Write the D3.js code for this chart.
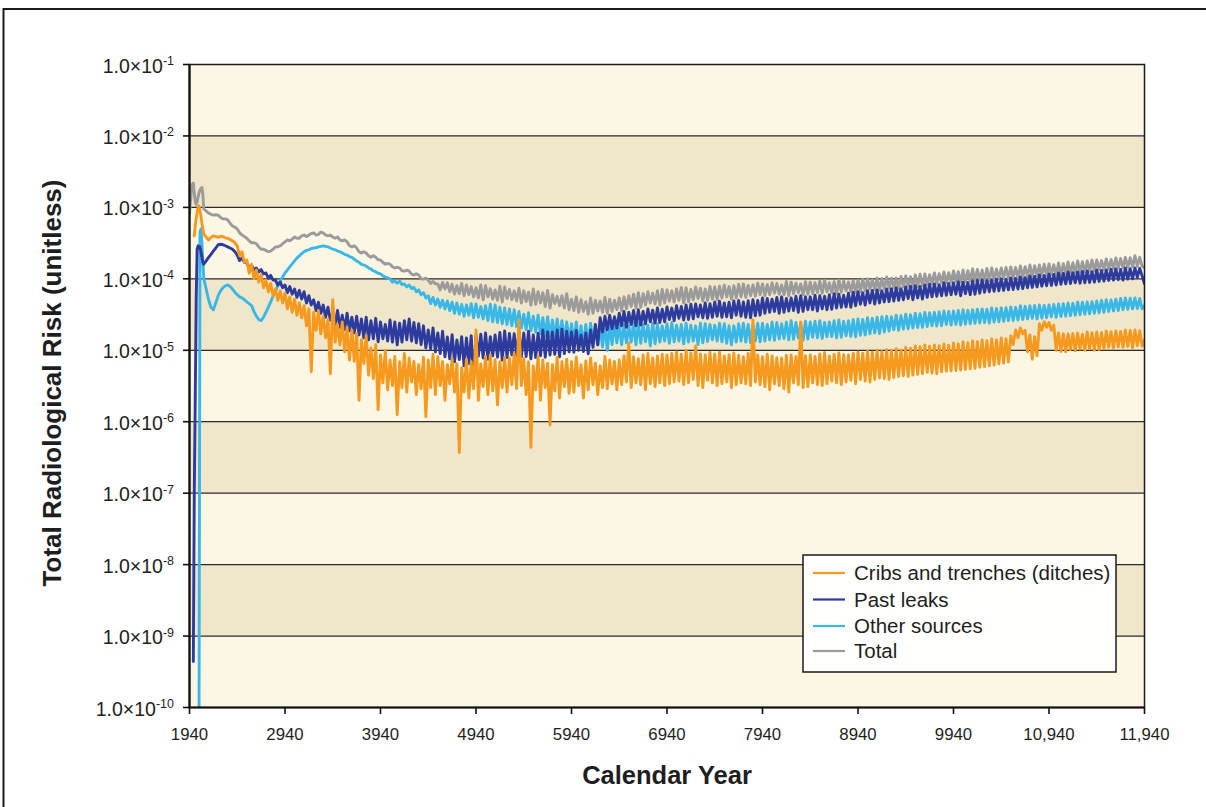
<!DOCTYPE html>
<html>
<head>
<meta charset="utf-8">
<script src="https://cdn.jsdelivr.net/npm/d3@7"></script>
<style>
  body { margin: 0; background: #ffffff; }
  svg { display: block; }
  text { font-family: "Liberation Sans", Arial, Helvetica, sans-serif; fill: #1e1e1e; }
</style>
</head>
<body>
<svg id="chart" width="1206" height="807"></svg>
<script>
// Sampling grid: 10-year steps through the first releases, 25-year steps afterwards
const years = [...d3.range(1940, 2100, 10), ...d3.range(2140, 11941, 25)];

// Total radiological risk (unitless) per source group
const cribsTrenches = [
  null, null, null, null, null, 4.0e-4, 5.5e-4, 7.0e-4, 8.5e-4, 1.0e-3, 1.05e-3, 9.0e-4, 7.5e-4, 6.0e-4, 5.0e-4, 4.2e-4,
  3.5e-4, 3.8e-4, 4.0e-4, 3.9e-4, 3.8e-4, 3.95e-4, 3.9e-4, 3.75e-4, 3.7e-4, 3.55e-4, 3.4e-4, 3.2e-4,
  2.9e-4, 2.1e-4, 2.4e-4, 1.7e-4, 1.84e-4, 1.2e-4, 1.6e-4, 1.0e-4, 1.33e-4, 9.0e-5, 1.15e-4, 7.5e-5, 9.6e-5, 6.6e-5, 8.6e-5, 5.8e-5, 7.2e-5, 5.0e-5, 6.8e-5, 4.6e-5,
  6.3e-5, 3.8e-5, 5.6e-5, 3.4e-5, 5.2e-5, 3.1e-5, 4.6e-5, 2.85e-5, 4.2e-5, 2.2e-5, 3.8e-5, 5.0e-6, 3.4e-5, 1.9e-5, 3.6e-5, 1.7e-5, 3.0e-5, 1.5e-5, 2.7e-5, 4.7e-6,
  5.1e-5, 1.3e-5, 2.3e-5, 1.19e-5, 2.5e-5, 9.5e-6, 2.1e-5, 7.3e-6, 1.93e-5, 7.0e-6, 1.7e-5, 2.0e-6, 1.4e-5, 6.5e-6, 1.6e-5, 4.5e-6, 1.08e-5, 4.0e-6, 1.2e-5, 1.47e-6,
  8.6e-6, 3.5e-6, 1.0e-5, 2.8e-6, 7.3e-6, 3.2e-6, 8.2e-6, 1.25e-6, 6.9e-6, 3.0e-6, 9.0e-6, 2.6e-6, 7.8e-6, 3.6e-6, 7.0e-6, 2.4e-6, 6.3e-6, 2.9e-6, 8.0e-6, 1.18e-6,
  7.3e-6, 3.0e-6, 8.8e-6, 2.4e-6, 8.1e-6, 3.2e-6, 7.0e-6, 2.0e-6, 6.3e-6, 3.4e-6, 7.6e-6, 2.6e-6, 6.5e-6, 3.7e-7, 5.7e-6, 2.6e-6, 7.5e-6, 2.15e-6, 6.9e-6, 2.9e-6,
  1.93e-5, 2.0e-6, 6.45e-6, 3.1e-6, 8.2e-6, 2.4e-6, 8.6e-6, 2.7e-6, 7.4e-6, 1.72e-6, 6.9e-6, 3.0e-6, 8.0e-6, 2.6e-6, 7.8e-6, 3.3e-6, 9.0e-6, 2.9e-6, 2.65e-5, 3.2e-6,
  7.7e-6, 2.4e-6, 6.9e-6, 4.4e-7, 6.05e-6, 2.8e-6, 8.3e-6, 2.0e-6, 7.3e-6, 3.0e-6, 6.6e-6, 9.0e-7, 6.3e-6, 2.7e-6, 8.0e-6, 2.15e-6, 6.9e-6, 3.1e-6, 7.5e-6, 2.5e-6,
  6.9e-6, 2.6e-6, 8.0e-6, 3.2e-6, 6.3e-6, 2.15e-6, 7.1e-6, 2.8e-6, 7.8e-6, 3.3e-6, 6.6e-6, 2.4e-6, 6.05e-6, 3.0e-6, 8.2e-6, 2.9e-6, 7.3e-6, 3.4e-6, 7.0e-6, 2.8e-6,
  7.3e-6, 3.3e-6, 8.4e-6, 3.6e-6, 1.27e-5, 3.0e-6, 8.1e-6, 3.5e-6, 7.6e-6, 3.3e-6, 8.6e-6, 2.8e-6, 9.0e-6, 3.4e-6, 7.8e-6, 3.1e-6, 8.3e-6, 3.5e-6, 8.8e-6, 3.2e-6,
  8.6e-6, 3.4e-6, 9.0e-6, 3.6e-6, 9.5e-6, 3.7e-6, 8.8e-6, 3.3e-6, 1.0e-5, 3.5e-6, 9.2e-6, 3.9e-6, 1.15e-5, 3.2e-6, 8.9e-6, 3.0e-6, 8.6e-6, 3.8e-6, 9.3e-6, 3.5e-6,
  8.9e-6, 3.2e-6, 9.4e-6, 3.4e-6, 8.35e-6, 3.6e-6, 8.7e-6, 3.0e-6, 9.2e-6, 3.3e-6, 8.5e-6, 3.5e-6, 8.1e-6, 3.4e-6, 9.0e-6, 3.2e-6, 2.65e-5, 3.6e-6, 8.6e-6, 3.3e-6,
  8.1e-6, 3.1e-6, 8.8e-6, 2.8e-6, 8.35e-6, 3.4e-6, 7.9e-6, 3.2e-6, 7.8e-6, 2.9e-6, 8.5e-6, 2.6e-6, 8.6e-6, 3.5e-6, 8.2e-6, 3.3e-6, 2.5e-5, 3.0e-6, 8.4e-6, 3.1e-6,
  8.6e-6, 3.5e-6, 8.2e-6, 3.3e-6, 8.9e-6, 3.2e-6, 9.3e-6, 3.4e-6, 8.35e-6, 3.7e-6, 8.8e-6, 3.5e-6, 9.2e-6, 3.3e-6, 8.7e-6, 3.6e-6, 8.6e-6, 3.8e-6, 9.1e-6, 3.4e-6,
  9.5e-6, 3.9e-6, 9.1e-6, 3.7e-6, 9.8e-6, 3.6e-6, 9.4e-6, 3.9e-6, 1.0e-5, 4.1e-6, 9.6e-6, 4.0e-6, 1.02e-5, 3.9e-6, 1.0e-5, 4.15e-6, 1.05e-5, 4.3e-6, 1.01e-5, 4.4e-6,
  1.1e-5, 4.3e-6, 1.07e-5, 4.5e-6, 1.15e-5, 4.6e-6, 1.12e-5, 4.7e-6, 1.19e-5, 4.9e-6, 1.14e-5, 4.8e-6, 1.19e-5, 4.7e-6, 1.16e-5, 5.0e-6, 1.23e-5, 5.1e-6, 1.18e-5, 5.15e-6,
  1.27e-5, 5.2e-6, 1.24e-5, 5.3e-6, 1.31e-5, 5.4e-6, 1.28e-5, 5.5e-6, 1.35e-5, 5.6e-6, 1.32e-5, 5.8e-6, 1.4e-5, 5.9e-6, 1.36e-5, 6.05e-6, 1.44e-5, 6.2e-6, 1.4e-5, 6.45e-6,
  1.49e-5, 6.6e-6, 1.45e-5, 6.9e-6, 1.59e-5, 1.2e-5, 1.93e-5, 1.5e-5, 2.05e-5, 1.7e-5, 1.9e-5, 9.5e-6, 1.64e-5, 7.5e-6, 1.55e-5, 8.35e-6, 2.35e-5, 1.9e-5, 2.5e-5, 2.1e-5,
  2.45e-5, 1.9e-5, 2.25e-5, 1.0e-5, 1.75e-5, 9.6e-6, 1.7e-5, 9.5e-6, 1.7e-5, 1.02e-5, 1.72e-5, 9.8e-6, 1.75e-5, 1.04e-5, 1.68e-5, 1.0e-5, 1.8e-5, 1.05e-5, 1.76e-5, 1.0e-5,
  1.8e-5, 1.02e-5, 1.78e-5, 1.05e-5, 1.87e-5, 1.1e-5, 1.82e-5, 1.08e-5, 1.87e-5, 1.12e-5, 1.84e-5, 1.1e-5, 1.93e-5, 1.13e-5, 1.9e-5, 1.08e-5, 1.93e-5, 1.16e-5, 1.88e-5, 1.15e-5,
  1.4e-5
];

const pastLeaks = [
  null, null, null, null, 4.4e-10, 1.0e-7, 2.0e-6, 5.1e-5, 2.6e-4, 2.9e-4, 2.7e-4, 2.8e-4, 2.4e-4, 2.0e-4, 1.7e-4, 1.6e-4,
  2.0e-4, 2.2e-4, 2.45e-4, 2.7e-4, 3.0e-4, 3.05e-4, 3.0e-4, 2.9e-4, 2.8e-4, 2.7e-4, 2.6e-4, 2.4e-4,
  2.15e-4, 1.8e-4, 1.95e-4, 1.7e-4, 1.66e-4, 1.45e-4, 1.55e-4, 1.33e-4, 1.42e-4, 1.25e-4, 1.35e-4, 1.17e-4, 1.21e-4, 1.02e-4, 1.12e-4, 9.6e-5, 9.6e-5, 8.2e-5, 9.0e-5, 7.5e-5,
  8.2e-5, 6.4e-5, 7.8e-5, 6.1e-5, 7.2e-5, 5.5e-5, 6.9e-5, 5.2e-5, 6.6e-5, 4.6e-5, 5.8e-5, 4.3e-5, 5.1e-5, 3.6e-5, 4.7e-5, 3.3e-5, 4.3e-5, 2.9e-5, 4.0e-5, 2.65e-5,
  3.4e-5, 2.3e-5, 3.6e-5, 2.1e-5, 3.1e-5, 1.95e-5, 3.3e-5, 1.87e-5, 2.9e-5, 1.75e-5, 3.0e-5, 1.64e-5, 2.75e-5, 1.5e-5, 2.9e-5, 1.4e-5, 2.6e-5, 1.45e-5, 2.8e-5, 1.31e-5,
  2.5e-5, 1.45e-5, 2.3e-5, 1.35e-5, 2.65e-5, 1.3e-5, 2.5e-5, 1.19e-5, 2.4e-5, 1.3e-5, 2.6e-5, 1.4e-5, 2.75e-5, 1.35e-5, 2.45e-5, 1.27e-5, 2.35e-5, 1.2e-5, 2.2e-5, 1.08e-5,
  1.93e-5, 1.05e-5, 2.05e-5, 9.5e-6, 1.75e-5, 9.0e-6, 1.85e-5, 8.1e-6, 1.54e-5, 7.6e-6, 1.65e-5, 6.9e-6, 1.4e-5, 7.4e-6, 1.55e-5, 6.05e-6, 1.49e-5, 6.5e-6, 1.6e-5, 3.85e-6,
  1.59e-5, 8.3e-6, 1.68e-5, 7.8e-6, 1.75e-5, 7.5e-6, 1.55e-5, 8.35e-6, 1.64e-5, 8.0e-6, 1.78e-5, 7.3e-6, 1.87e-5, 7.9e-6, 1.72e-5, 8.6e-6, 1.7e-5, 8.4e-6, 1.82e-5, 8.1e-6,
  1.75e-5, 8.2e-6, 1.85e-5, 7.6e-6, 1.64e-5, 7.9e-6, 1.74e-5, 8.35e-6, 1.93e-5, 8.0e-6, 1.82e-5, 8.6e-6, 1.8e-5, 8.8e-6, 1.92e-5, 8.1e-6, 1.98e-5, 9.0e-6, 1.85e-5, 9.5e-6,
  1.8e-5, 9.4e-6, 1.9e-5, 1.0e-5, 1.64e-5, 9.6e-6, 1.75e-5, 8.9e-6, 1.93e-5, 1.1e-5, 2.3e-5, 1.19e-5, 2.85e-5, 1.8e-5, 3.0e-5, 1.93e-5, 3.1e-5, 2.0e-5, 2.95e-5, 2.05e-5,
  3.3e-5, 2.2e-5, 3.5e-5, 2.1e-5, 3.4e-5, 2.3e-5, 3.6e-5, 2.2e-5, 3.7e-5, 2.25e-5, 3.5e-5, 2.35e-5, 3.8e-5, 2.5e-5, 3.65e-5, 2.4e-5, 3.9e-5, 2.45e-5, 3.75e-5, 2.5e-5,
  4.05e-5, 2.7e-5, 3.9e-5, 2.6e-5, 4.2e-5, 2.8e-5, 4.1e-5, 2.65e-5, 4.3e-5, 2.7e-5, 4.4e-5, 2.75e-5, 4.45e-5, 2.95e-5, 4.3e-5, 2.85e-5, 4.6e-5, 2.8e-5, 4.5e-5, 2.9e-5,
  4.75e-5, 3.0e-5, 4.85e-5, 2.9e-5, 4.6e-5, 2.95e-5, 4.7e-5, 2.85e-5, 4.9e-5, 3.1e-5, 5.0e-5, 3.0e-5, 4.75e-5, 2.9e-5, 4.95e-5, 2.85e-5, 5.1e-5, 3.05e-5, 5.0e-5, 3.1e-5,
  5.4e-5, 3.3e-5, 5.3e-5, 3.4e-5, 5.2e-5, 3.5e-5, 5.5e-5, 3.3e-5, 5.6e-5, 3.4e-5, 5.3e-5, 3.55e-5, 5.4e-5, 3.6e-5, 5.7e-5, 3.4e-5, 5.8e-5, 3.5e-5, 5.6e-5, 3.7e-5,
  5.6e-5, 3.7e-5, 5.9e-5, 3.55e-5, 5.8e-5, 3.8e-5, 5.7e-5, 3.7e-5, 6.0e-5, 3.75e-5, 6.2e-5, 3.9e-5, 6.1e-5, 4.0e-5, 5.9e-5, 4.05e-5, 6.3e-5, 4.0e-5, 6.5e-5, 4.2e-5,
  6.6e-5, 4.4e-5, 6.4e-5, 4.3e-5, 6.8e-5, 4.6e-5, 6.9e-5, 4.45e-5, 7.0e-5, 4.6e-5, 6.8e-5, 4.75e-5, 7.2e-5, 4.8e-5, 7.3e-5, 4.9e-5, 7.5e-5, 5.0e-5, 7.3e-5, 5.1e-5,
  7.7e-5, 5.3e-5, 7.9e-5, 5.1e-5, 8.0e-5, 5.4e-5, 7.8e-5, 5.2e-5, 8.2e-5, 5.5e-5, 8.4e-5, 5.6e-5, 8.5e-5, 5.7e-5, 8.3e-5, 5.8e-5, 8.8e-5, 5.9e-5, 8.6e-5, 6.0e-5,
  8.8e-5, 6.1e-5, 9.1e-5, 5.8e-5, 9.0e-5, 6.2e-5, 8.9e-5, 6.0e-5, 9.3e-5, 6.1e-5, 9.5e-5, 6.3e-5, 9.6e-5, 6.5e-5, 9.4e-5, 6.6e-5, 9.6e-5, 6.7e-5, 9.9e-5, 6.8e-5,
  1.0e-4, 6.9e-5, 9.8e-5, 7.0e-5, 1.03e-4, 7.1e-5, 1.01e-4, 7.2e-5, 1.06e-4, 7.3e-5, 1.04e-4, 7.5e-5, 1.1e-4, 7.6e-5, 1.08e-4, 7.7e-5, 1.13e-4, 7.9e-5, 1.11e-4, 8.0e-5,
  1.17e-4, 8.1e-5, 1.15e-4, 8.2e-5, 1.21e-4, 8.4e-5, 1.19e-4, 8.5e-5, 1.25e-4, 8.6e-5, 1.22e-4, 8.8e-5, 1.25e-4, 8.7e-5, 1.27e-4, 8.8e-5, 1.29e-4, 8.9e-5, 1.26e-4, 9.0e-5,
  1.33e-4, 9.2e-5, 1.31e-4, 9.3e-5, 1.33e-4, 9.5e-5, 1.36e-4, 9.6e-5, 1.38e-4, 9.7e-5, 1.35e-4, 9.6e-5, 1.42e-4, 9.9e-5, 1.39e-4, 1.0e-4, 1.42e-4, 1.05e-4, 1.4e-4, 1.1e-4,
  8.5e-5
];

const otherSources = [
  null, null, null, null, null, null, null, null, null, null, 1.0e-10, 4.5e-4, 5.0e-4, 3.2e-4, 1.7e-4, 1.0e-4,
  5.1e-5, 4.0e-5, 3.7e-5, 4.6e-5, 5.8e-5, 6.8e-5, 7.5e-5, 8.0e-5, 8.2e-5, 7.8e-5, 7.2e-5, 6.5e-5,
  6.0e-5, 5.6e-5, 5.4e-5, 5.1e-5, 4.75e-5, 4.5e-5, 4.2e-5, 3.5e-5, 3.0e-5, 2.7e-5, 2.6e-5, 2.9e-5, 3.4e-5, 4.0e-5, 4.75e-5, 5.7e-5, 6.8e-5, 8.0e-5, 9.3e-5, 1.06e-4,
  1.21e-4, 1.33e-4, 1.47e-4, 1.62e-4, 1.78e-4, 1.95e-4, 2.1e-4, 2.25e-4, 2.4e-4, 2.5e-4, 2.55e-4, 2.65e-4, 2.7e-4, 2.72e-4, 2.8e-4, 2.85e-4, 2.9e-4, 2.85e-4, 2.8e-4, 2.7e-4,
  2.6e-4, 2.55e-4, 2.45e-4, 2.4e-4, 2.3e-4, 2.2e-4, 2.15e-4, 2.05e-4, 2.0e-4, 1.88e-4, 1.78e-4, 1.7e-4, 1.6e-4, 1.56e-4, 1.51e-4, 1.42e-4, 1.37e-4, 1.3e-4, 1.25e-4, 1.2e-4,
  1.17e-4, 1.1e-4, 1.06e-4, 1.03e-4, 1.0e-4, 9.0e-5, 9.3e-5, 8.7e-5, 9.3e-5, 8.3e-5, 8.5e-5, 7.7e-5, 8.2e-5, 7.3e-5, 7.6e-5, 6.6e-5, 7.0e-5, 6.0e-5, 6.4e-5, 5.4e-5,
  5.8e-5, 4.5e-5, 5.5e-5, 4.3e-5, 5.2e-5, 4.0e-5, 5.0e-5, 3.8e-5, 4.9e-5, 3.6e-5, 4.7e-5, 3.3e-5, 4.6e-5, 3.2e-5, 4.4e-5, 3.0e-5, 4.3e-5, 3.1e-5, 4.5e-5, 2.85e-5,
  4.45e-5, 2.9e-5, 4.1e-5, 2.75e-5, 4.2e-5, 2.6e-5, 4.4e-5, 2.5e-5, 4.3e-5, 2.45e-5, 4.0e-5, 2.35e-5, 3.9e-5, 2.3e-5, 3.8e-5, 2.2e-5, 3.7e-5, 2.15e-5, 3.5e-5, 2.05e-5,
  3.2e-5, 1.95e-5, 3.35e-5, 1.87e-5, 3.0e-5, 1.8e-5, 3.1e-5, 1.7e-5, 2.85e-5, 1.6e-5, 2.95e-5, 1.54e-5, 2.65e-5, 1.5e-5, 2.75e-5, 1.44e-5, 2.6e-5, 1.35e-5, 2.5e-5, 1.4e-5,
  2.35e-5, 1.3e-5, 2.5e-5, 1.23e-5, 2.2e-5, 1.15e-5, 2.3e-5, 1.08e-5, 2.4e-5, 1.25e-5, 2.2e-5, 1.19e-5, 2.1e-5, 1.12e-5, 2.3e-5, 1.0e-5, 2.25e-5, 1.2e-5, 2.4e-5, 1.27e-5,
  2.35e-5, 1.2e-5, 2.25e-5, 1.27e-5, 2.2e-5, 1.3e-5, 2.45e-5, 1.19e-5, 2.4e-5, 1.25e-5, 2.3e-5, 1.31e-5, 2.25e-5, 1.15e-5, 2.4e-5, 1.23e-5, 2.35e-5, 1.3e-5, 2.2e-5, 1.35e-5,
  2.35e-5, 1.25e-5, 2.45e-5, 1.31e-5, 2.25e-5, 1.35e-5, 2.3e-5, 1.23e-5, 2.4e-5, 1.3e-5, 2.25e-5, 1.35e-5, 2.2e-5, 1.2e-5, 2.4e-5, 1.27e-5, 2.35e-5, 1.32e-5, 2.3e-5, 1.4e-5,
  2.25e-5, 1.35e-5, 2.4e-5, 1.31e-5, 2.35e-5, 1.25e-5, 2.2e-5, 1.19e-5, 2.2e-5, 1.3e-5, 2.35e-5, 1.35e-5, 2.4e-5, 1.3e-5, 2.3e-5, 1.27e-5, 2.25e-5, 1.36e-5, 2.4e-5, 1.31e-5,
  2.4e-5, 1.35e-5, 2.3e-5, 1.4e-5, 2.5e-5, 1.38e-5, 2.45e-5, 1.44e-5, 2.35e-5, 1.46e-5, 2.5e-5, 1.4e-5, 2.6e-5, 1.42e-5, 2.45e-5, 1.49e-5, 2.4e-5, 1.38e-5, 2.55e-5, 1.44e-5,
  2.5e-5, 1.52e-5, 2.55e-5, 1.49e-5, 2.6e-5, 1.46e-5, 2.45e-5, 1.54e-5, 2.5e-5, 1.56e-5, 2.6e-5, 1.49e-5, 2.65e-5, 1.52e-5, 2.55e-5, 1.59e-5, 2.6e-5, 1.57e-5, 2.7e-5, 1.54e-5,
  2.75e-5, 1.62e-5, 2.7e-5, 1.64e-5, 2.85e-5, 1.7e-5, 2.8e-5, 1.75e-5, 2.9e-5, 1.72e-5, 2.95e-5, 1.8e-5, 3.0e-5, 1.86e-5, 2.95e-5, 1.93e-5, 3.1e-5, 1.9e-5, 3.05e-5, 1.98e-5,
  3.2e-5, 2.0e-5, 3.15e-5, 2.05e-5, 3.3e-5, 2.08e-5, 3.25e-5, 2.1e-5, 3.4e-5, 2.15e-5, 3.35e-5, 2.2e-5, 3.4e-5, 2.18e-5, 3.45e-5, 2.2e-5, 3.55e-5, 2.3e-5, 3.5e-5, 2.25e-5,
  3.55e-5, 2.3e-5, 3.6e-5, 2.25e-5, 3.7e-5, 2.32e-5, 3.65e-5, 2.35e-5, 3.7e-5, 2.38e-5, 3.75e-5, 2.4e-5, 3.8e-5, 2.45e-5, 3.75e-5, 2.4e-5, 3.9e-5, 2.48e-5, 3.85e-5, 2.5e-5,
  3.9e-5, 2.55e-5, 3.95e-5, 2.6e-5, 4.05e-5, 2.62e-5, 4.0e-5, 2.65e-5, 4.2e-5, 2.7e-5, 4.15e-5, 2.75e-5, 4.2e-5, 2.8e-5, 4.25e-5, 2.75e-5, 4.3e-5, 2.82e-5, 4.25e-5, 2.85e-5,
  4.3e-5, 2.95e-5, 4.4e-5, 2.9e-5, 4.45e-5, 2.98e-5, 4.5e-5, 3.0e-5, 4.6e-5, 3.05e-5, 4.55e-5, 3.1e-5, 4.75e-5, 3.15e-5, 4.7e-5, 3.2e-5, 4.75e-5, 3.25e-5, 4.8e-5, 3.3e-5,
  4.9e-5, 3.35e-5, 5.0e-5, 3.4e-5, 5.1e-5, 3.5e-5, 5.05e-5, 3.55e-5, 5.2e-5, 3.6e-5, 5.3e-5, 3.7e-5, 5.4e-5, 3.75e-5, 5.35e-5, 3.8e-5, 5.4e-5, 3.85e-5, 5.3e-5, 3.8e-5,
  4.2e-5
];

const totalRisk = [
  8.1e-4, 1.2e-3, 1.7e-3, 2.1e-3, 2.2e-3, 1.6e-3, 1.2e-3, 1.1e-3, 1.2e-3, 1.4e-3, 1.6e-3, 1.75e-3, 1.85e-3, 1.9e-3, 1.5e-3, 9.5e-4,
  8.3e-4, 8.0e-4, 7.8e-4, 7.9e-4, 7.8e-4, 7.2e-4, 6.9e-4, 6.9e-4, 6.7e-4, 6.0e-4, 5.5e-4, 5.3e-4,
  5.0e-4, 4.4e-4, 4.1e-4, 3.9e-4, 3.7e-4, 3.4e-4, 3.2e-4, 3.2e-4, 3.1e-4, 2.8e-4, 2.6e-4, 2.6e-4, 2.5e-4, 2.4e-4, 2.45e-4, 2.6e-4, 2.8e-4, 2.8e-4, 2.9e-4, 3.1e-4,
  3.3e-4, 3.5e-4, 3.4e-4, 3.6e-4, 3.85e-4, 3.7e-4, 3.7e-4, 4.0e-4, 4.1e-4, 3.9e-4, 4.1e-4, 4.3e-4, 4.4e-4, 4.1e-4, 4.2e-4, 4.5e-4, 4.4e-4, 4.1e-4, 4.0e-4, 4.1e-4,
  3.85e-4, 3.7e-4, 3.85e-4, 3.5e-4, 3.4e-4, 3.5e-4, 3.3e-4, 2.9e-4, 2.8e-4, 2.9e-4, 2.7e-4, 2.4e-4, 2.3e-4, 2.4e-4, 2.3e-4, 2.1e-4, 2.0e-4, 2.1e-4, 2.0e-4, 1.85e-4,
  1.84e-4, 1.7e-4, 1.6e-4, 1.65e-4, 1.6e-4, 1.48e-4, 1.42e-4, 1.45e-4, 1.42e-4, 1.3e-4, 1.28e-4, 1.32e-4, 1.28e-4, 1.16e-4, 1.13e-4, 1.18e-4, 1.13e-4, 1.0e-4, 9.9e-5, 1.02e-4,
  9.6e-5, 8.6e-5, 9.2e-5, 8.5e-5, 8.5e-5, 7.0e-5, 8.9e-5, 7.2e-5, 8.8e-5, 6.6e-5, 8.4e-5, 6.1e-5, 8.0e-5, 6.2e-5, 8.6e-5, 5.8e-5, 8.2e-5, 6.0e-5, 7.8e-5, 5.6e-5,
  7.5e-5, 5.4e-5, 8.2e-5, 5.1e-5, 8.0e-5, 5.6e-5, 7.3e-5, 5.2e-5, 7.0e-5, 5.0e-5, 7.9e-5, 4.75e-5, 7.7e-5, 5.3e-5, 7.1e-5, 5.1e-5, 6.8e-5, 4.9e-5, 7.4e-5, 4.6e-5,
  6.8e-5, 4.8e-5, 6.5e-5, 4.3e-5, 7.2e-5, 4.4e-5, 6.6e-5, 4.6e-5, 6.4e-5, 4.1e-5, 6.9e-5, 3.9e-5, 6.0e-5, 4.5e-5, 5.7e-5, 4.2e-5, 5.8e-5, 3.9e-5, 6.2e-5, 3.7e-5,
  5.2e-5, 3.6e-5, 5.6e-5, 3.4e-5, 5.1e-5, 3.5e-5, 4.8e-5, 3.2e-5, 5.4e-5, 3.3e-5, 5.0e-5, 3.55e-5, 4.9e-5, 3.4e-5, 5.5e-5, 3.3e-5, 5.2e-5, 3.5e-5, 5.0e-5, 3.7e-5,
  5.4e-5, 3.6e-5, 5.6e-5, 3.8e-5, 5.8e-5, 4.1e-5, 6.1e-5, 3.9e-5, 6.4e-5, 4.0e-5, 6.2e-5, 4.3e-5, 6.6e-5, 4.6e-5, 6.3e-5, 4.45e-5, 6.8e-5, 4.3e-5, 7.1e-5, 4.6e-5,
  7.0e-5, 4.9e-5, 6.8e-5, 4.75e-5, 7.2e-5, 5.0e-5, 7.6e-5, 4.6e-5, 7.5e-5, 4.8e-5, 7.1e-5, 5.1e-5, 7.7e-5, 5.3e-5, 7.4e-5, 4.9e-5, 7.2e-5, 5.0e-5, 7.8e-5, 5.2e-5,
  7.7e-5, 5.1e-5, 7.9e-5, 5.4e-5, 8.2e-5, 5.6e-5, 7.8e-5, 5.2e-5, 8.0e-5, 5.4e-5, 8.4e-5, 5.6e-5, 8.5e-5, 5.5e-5, 8.1e-5, 5.8e-5, 8.2e-5, 5.7e-5, 8.7e-5, 6.0e-5,
  8.5e-5, 5.8e-5, 8.3e-5, 6.0e-5, 8.8e-5, 6.3e-5, 8.6e-5, 6.1e-5, 8.2e-5, 6.0e-5, 9.2e-5, 5.8e-5, 9.0e-5, 6.2e-5, 8.7e-5, 6.4e-5, 8.5e-5, 6.0e-5, 9.1e-5, 6.1e-5,
  9.0e-5, 6.2e-5, 8.8e-5, 6.4e-5, 9.3e-5, 6.3e-5, 9.6e-5, 6.6e-5, 8.8e-5, 6.4e-5, 9.1e-5, 6.1e-5, 9.6e-5, 6.5e-5, 9.3e-5, 6.8e-5, 9.0e-5, 6.6e-5, 9.5e-5, 6.4e-5,
  9.6e-5, 6.6e-5, 9.9e-5, 6.8e-5, 1.0e-4, 7.2e-5, 9.7e-5, 7.0e-5, 1.03e-4, 6.9e-5, 1.01e-4, 7.2e-5, 1.06e-4, 7.4e-5, 1.02e-4, 7.5e-5, 1.03e-4, 7.3e-5, 1.08e-4, 7.7e-5,
  1.1e-4, 7.9e-5, 1.07e-4, 7.7e-5, 1.13e-4, 7.8e-5, 1.16e-4, 8.0e-5, 1.17e-4, 8.3e-5, 1.14e-4, 8.5e-5, 1.21e-4, 8.6e-5, 1.18e-4, 8.8e-5, 1.25e-4, 8.7e-5, 1.22e-4, 9.0e-5,
  1.29e-4, 9.2e-5, 1.26e-4, 9.0e-5, 1.33e-4, 9.1e-5, 1.3e-4, 9.3e-5, 1.38e-4, 9.5e-5, 1.35e-4, 9.6e-5, 1.33e-4, 9.4e-5, 1.4e-4, 9.3e-5, 1.42e-4, 9.8e-5, 1.37e-4, 1.0e-4,
  1.42e-4, 1.02e-4, 1.45e-4, 1.0e-4, 1.47e-4, 1.01e-4, 1.44e-4, 1.03e-4, 1.51e-4, 1.05e-4, 1.48e-4, 1.06e-4, 1.56e-4, 1.08e-4, 1.52e-4, 1.1e-4, 1.56e-4, 1.12e-4, 1.6e-4, 1.1e-4,
  1.62e-4, 1.15e-4, 1.58e-4, 1.13e-4, 1.67e-4, 1.14e-4, 1.63e-4, 1.17e-4, 1.72e-4, 1.19e-4, 1.68e-4, 1.21e-4, 1.78e-4, 1.23e-4, 1.74e-4, 1.25e-4, 1.78e-4, 1.27e-4, 1.83e-4, 1.29e-4,
  1.84e-4, 1.35e-4, 1.8e-4, 1.33e-4, 1.9e-4, 1.36e-4, 1.86e-4, 1.38e-4, 1.96e-4, 1.4e-4, 1.92e-4, 1.42e-4, 2.0e-4, 1.45e-4, 1.97e-4, 1.47e-4, 2.1e-4, 1.49e-4, 2.0e-4, 1.51e-4,
  1.42e-4
];

const xTickYears = [1940, 2940, 3940, 4940, 5940, 6940, 7940, 8940, 9940, 10940, 11940];
const xTickLabels = ["1940", "2940", "3940", "4940", "5940", "6940", "7940", "8940", "9940", "10,940", "11,940"];
const yTickExponents = [-1, -2, -3, -4, -5, -6, -7, -8, -9, -10];

const seriesNames = ["Cribs and trenches (ditches)", "Past leaks", "Other sources", "Total"];
const seriesColors = ["#f59a1f", "#2e3b9e", "#39b7e6", "#9b9b9b"];
const seriesValues = [cribsTrenches, pastLeaks, otherSources, totalRisk];

const W = 1206, H = 807;
const plot = { left: 189.5, right: 1144.5, top: 64.5, bottom: 707.5 };

const svg = d3.select("#chart");

const x = d3.scaleLinear().domain([1940, 11940]).range([plot.left, plot.right]);
const y = d3.scaleLog().domain([1e-10, 1e-1]).range([plot.bottom, plot.top]);

// page frame (top and left rule)
svg.append("path")
  .attr("d", `M3.5,${H} V9 H${W}`)
  .attr("fill", "none").attr("stroke", "#1b1b1b").attr("stroke-width", 2);

// alternating decade bands
const bandIdx = d3.range(yTickExponents.length - 1);
svg.append("g").selectAll("rect").data(bandIdx).join("rect")
  .attr("x", plot.left)
  .attr("width", plot.right - plot.left)
  .attr("y", i => y(Math.pow(10, yTickExponents[i])))
  .attr("height", i => y(Math.pow(10, yTickExponents[i + 1])) - y(Math.pow(10, yTickExponents[i])))
  .attr("fill", i => i % 2 ? "#f0e6c9" : "#fcf6e5");

// decade gridlines
svg.append("g").selectAll("line").data(yTickExponents.slice(1, -1)).join("line")
  .attr("x1", plot.left).attr("x2", plot.right)
  .attr("y1", e => y(Math.pow(10, e))).attr("y2", e => y(Math.pow(10, e)))
  .attr("stroke", "#2a2a2a").attr("stroke-width", 1.3);

// series
svg.append("clipPath").attr("id", "plotClip")
  .append("rect")
  .attr("x", plot.left).attr("y", plot.top)
  .attr("width", plot.right - plot.left).attr("height", plot.bottom - plot.top);

const line = d3.line()
  .defined(d => d.v != null)
  .x(d => x(d.yr))
  .y(d => y(d.v));

const drawOrder = [3, 2, 1, 0];
const lineG = svg.append("g").attr("clip-path", "url(#plotClip)");
drawOrder.forEach(s => {
  const pts = years.map((yr, i) => ({ yr, v: seriesValues[s][i] }));
  lineG.append("path")
    .datum(pts)
    .attr("d", line)
    .attr("fill", "none")
    .attr("stroke", seriesColors[s])
    .attr("stroke-width", 2.9)
    .attr("stroke-linejoin", "round")
    .attr("stroke-linecap", "round");
});

// plot frame
svg.append("rect")
  .attr("x", plot.left).attr("y", plot.top)
  .attr("width", plot.right - plot.left).attr("height", plot.bottom - plot.top)
  .attr("fill", "none").attr("stroke", "#1a1a1a").attr("stroke-width", 1.5);
svg.append("path")
  .attr("d", `M${plot.left},${plot.top} V${plot.bottom} H${plot.right}`)
  .attr("fill", "none").attr("stroke", "#111").attr("stroke-width", 2.2);

// y axis ticks and labels
const yAxis = svg.append("g");
yAxis.selectAll("line").data(yTickExponents).join("line")
  .attr("x1", plot.left - 6.5).attr("x2", plot.left)
  .attr("y1", e => y(Math.pow(10, e))).attr("y2", e => y(Math.pow(10, e)))
  .attr("stroke", "#111").attr("stroke-width", 1.6);
const yLab = yAxis.selectAll("text").data(yTickExponents).join("text")
  .attr("x", 174)
  .attr("y", e => y(Math.pow(10, e)) + 8)
  .attr("text-anchor", "end")
  .style("font-size", "19.5px");
yLab.append("tspan").text("1.0\u00d710");
yLab.append("tspan").attr("dy", -7.5).style("font-size", "12.5px").text(e => String(e));

// x axis ticks and labels
const xAxis = svg.append("g");
xAxis.selectAll("line").data(xTickYears).join("line")
  .attr("x1", d => x(d)).attr("x2", d => x(d))
  .attr("y1", plot.bottom).attr("y2", plot.bottom + 6.5)
  .attr("stroke", "#111").attr("stroke-width", 1.6);
xAxis.selectAll("text").data(xTickYears).join("text")
  .attr("x", d => x(d))
  .attr("y", 739.5)
  .attr("text-anchor", "middle")
  .style("font-size", "16.8px")
  .text((d, i) => xTickLabels[i]);

// axis titles
svg.append("text")
  .attr("x", 667).attr("y", 784)
  .attr("text-anchor", "middle")
  .style("font-size", "25.5px").style("font-weight", "bold")
  .text("Calendar Year");
svg.append("text")
  .attr("transform", "translate(61,383) rotate(-90)")
  .attr("text-anchor", "middle")
  .style("font-size", "26px").style("font-weight", "bold")
  .text("Total Radiological Risk (unitless)");

// legend
const legend = svg.append("g");
legend.append("rect")
  .attr("x", 803).attr("y", 555).attr("width", 313).attr("height", 117)
  .attr("fill", "#fefefd").attr("stroke", "#1a1a1a").attr("stroke-width", 1.5);
const legendBaselines = [580, 606.5, 633, 658];
seriesNames.forEach((name, i) => {
  legend.append("line")
    .attr("x1", 813).attr("x2", 845)
    .attr("y1", legendBaselines[i] - 7).attr("y2", legendBaselines[i] - 7)
    .attr("stroke", seriesColors[i]).attr("stroke-width", 2.2);
  legend.append("text")
    .attr("x", 854).attr("y", legendBaselines[i])
    .style("font-size", "20.5px")
    .text(name);
});
</script>
</body>
</html>
